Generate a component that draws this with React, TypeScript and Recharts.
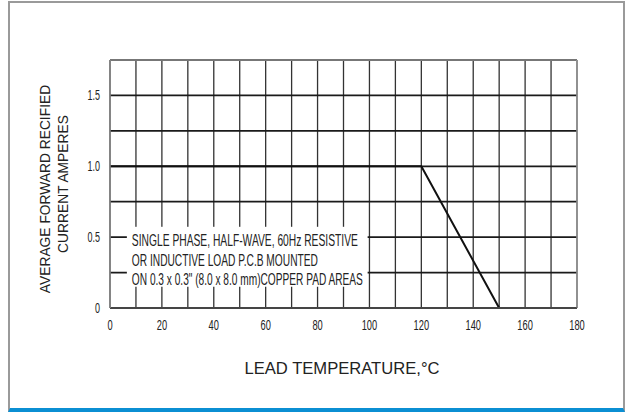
import React from 'react'
import {
  LineChart,
  Line,
  XAxis,
  YAxis,
  CartesianGrid,
  ReferenceArea,
  ReferenceLine,
} from 'recharts'

// derating curve: lead temperature (°C) vs average forward current (A)
const temps = [0, 120, 150]
const current = [1.0, 1.0, 0]

const xTicks = [0, 10, 20, 30, 40, 50, 60, 70, 80, 90, 100, 110, 120, 130, 140, 150, 160, 170, 180]
const yTicks = [0, 0.25, 0.5, 0.75, 1.0, 1.25, 1.5, 1.75]
const yLabels: Record<string, string> = { '0': '0', '0.5': '0.5', '1': '1.0', '1.5': '1.5' }

const noteLines = [
  'SINGLE PHASE, HALF-WAVE, 60Hz RESISTIVE',
  'OR INDUCTIVE LOAD P.C.B MOUNTED',
  'ON 0.3 x 0.3" (8.0 x 8.0 mm)COPPER PAD AREAS',
]
const noteWidths = [226, 186, 231]

const data = temps.map((t, i) => ({ t, a: current[i] }))

const FONT = 'Liberation Sans, Arial, sans-serif'
const NARROW = 'Liberation Sans Narrow, Liberation Sans, Arial, sans-serif'

const XTick = (props: any) => {
  const { x, payload } = props
  if (payload.value % 20 !== 0) return <g />
  return (
    <text
      transform={`translate(${x},330) scale(0.6,1)`}
      textAnchor="middle"
      fontSize={15.5}
      fontFamily={FONT}
      fill="#222"
    >
      {payload.value}
    </text>
  )
}

const YTick = (props: any) => {
  const { y, payload } = props
  const label = yLabels[String(payload.value)]
  if (!label) return <g />
  return (
    <text
      transform={`translate(100,${y + 5}) scale(0.6,1)`}
      textAnchor="end"
      fontSize={15}
      fontFamily={FONT}
      fill="#222"
    >
      {label}
    </text>
  )
}

const NoteBox = (props: any) => {
  const { x, y, width, height } = props
  return (
    <g>
      <rect x={x} y={y} width={width} height={height} fill="#fff" />
      {noteLines.map((s, i) => (
        <text
          key={i}
          x={x + 5}
          y={y + 19.5 + i * 19.5}
          fontSize={16.5}
          fontFamily={NARROW}
          fill="#222"
          textLength={noteWidths[i]}
          lengthAdjust="spacingAndGlyphs"
        >
          {s}
        </text>
      ))}
    </g>
  )
}

const YTitle = () => (
  <g fontFamily={FONT} fontSize={13.8} fill="#222" textAnchor="middle">
    <text transform="translate(50,189) rotate(-90)">AVERAGE FORWARD RECIFIED</text>
    <text transform="translate(68,184) rotate(-90)">CURRENT AMPERES</text>
  </g>
)

const XTitle = () => (
  <text x={342} y={374} textAnchor="middle" fontSize={16.6} fontFamily={FONT} fill="#222">
    LEAD TEMPERATURE,°C
  </text>
)

export default function App() {
  return (
    <div style={{ position: 'absolute', left: 0, top: 0, width: 627, height: 412, background: '#fff' }}>
      <div
        style={{
          position: 'absolute',
          left: 8,
          top: 1,
          width: 617,
          height: 411,
          boxSizing: 'border-box',
          borderLeft: '2px solid #9a9a9a',
          borderRight: '2px solid #9a9a9a',
          borderTop: '2px solid #9a9a9a',
          borderBottom: '4px solid #0b8fd3',
        }}
      />
      <div style={{ position: 'absolute', left: 0, top: 0 }}>
        <LineChart width={627} height={412} data={data} margin={{ top: 60, right: 50, bottom: 74, left: 70 }}>
          <CartesianGrid horizontal={false} stroke="#333" strokeWidth={1.3} />
          <CartesianGrid vertical={false} stroke="#1a1a1a" strokeWidth={1.8} />
          <XAxis
            dataKey="t"
            type="number"
            domain={[0, 180]}
            ticks={xTicks}
            interval={0}
            tick={<XTick />}
            tickLine={false}
            axisLine={{ stroke: '#555', strokeWidth: 1.5 }}
            height={30}
            label={<XTitle />}
          />
          <YAxis
            type="number"
            domain={[0, 1.75]}
            ticks={yTicks}
            interval={0}
            tick={<YTick />}
            tickLine={false}
            axisLine={{ stroke: '#888', strokeWidth: 1.5 }}
            width={40}
            label={<YTitle />}
          />
          <ReferenceLine y={1.75} stroke="#777" strokeWidth={2} />
          <ReferenceLine x={180} stroke="#999" strokeWidth={1.5} />
          <ReferenceArea x1={6.5} x2={99.3} y1={0.15} y2={0.573} shape={<NoteBox />} />
          <Line
            type="linear"
            dataKey="a"
            stroke="#111"
            strokeWidth={2}
            dot={false}
            isAnimationActive={false}
          />
        </LineChart>
      </div>
    </div>
  )
}
